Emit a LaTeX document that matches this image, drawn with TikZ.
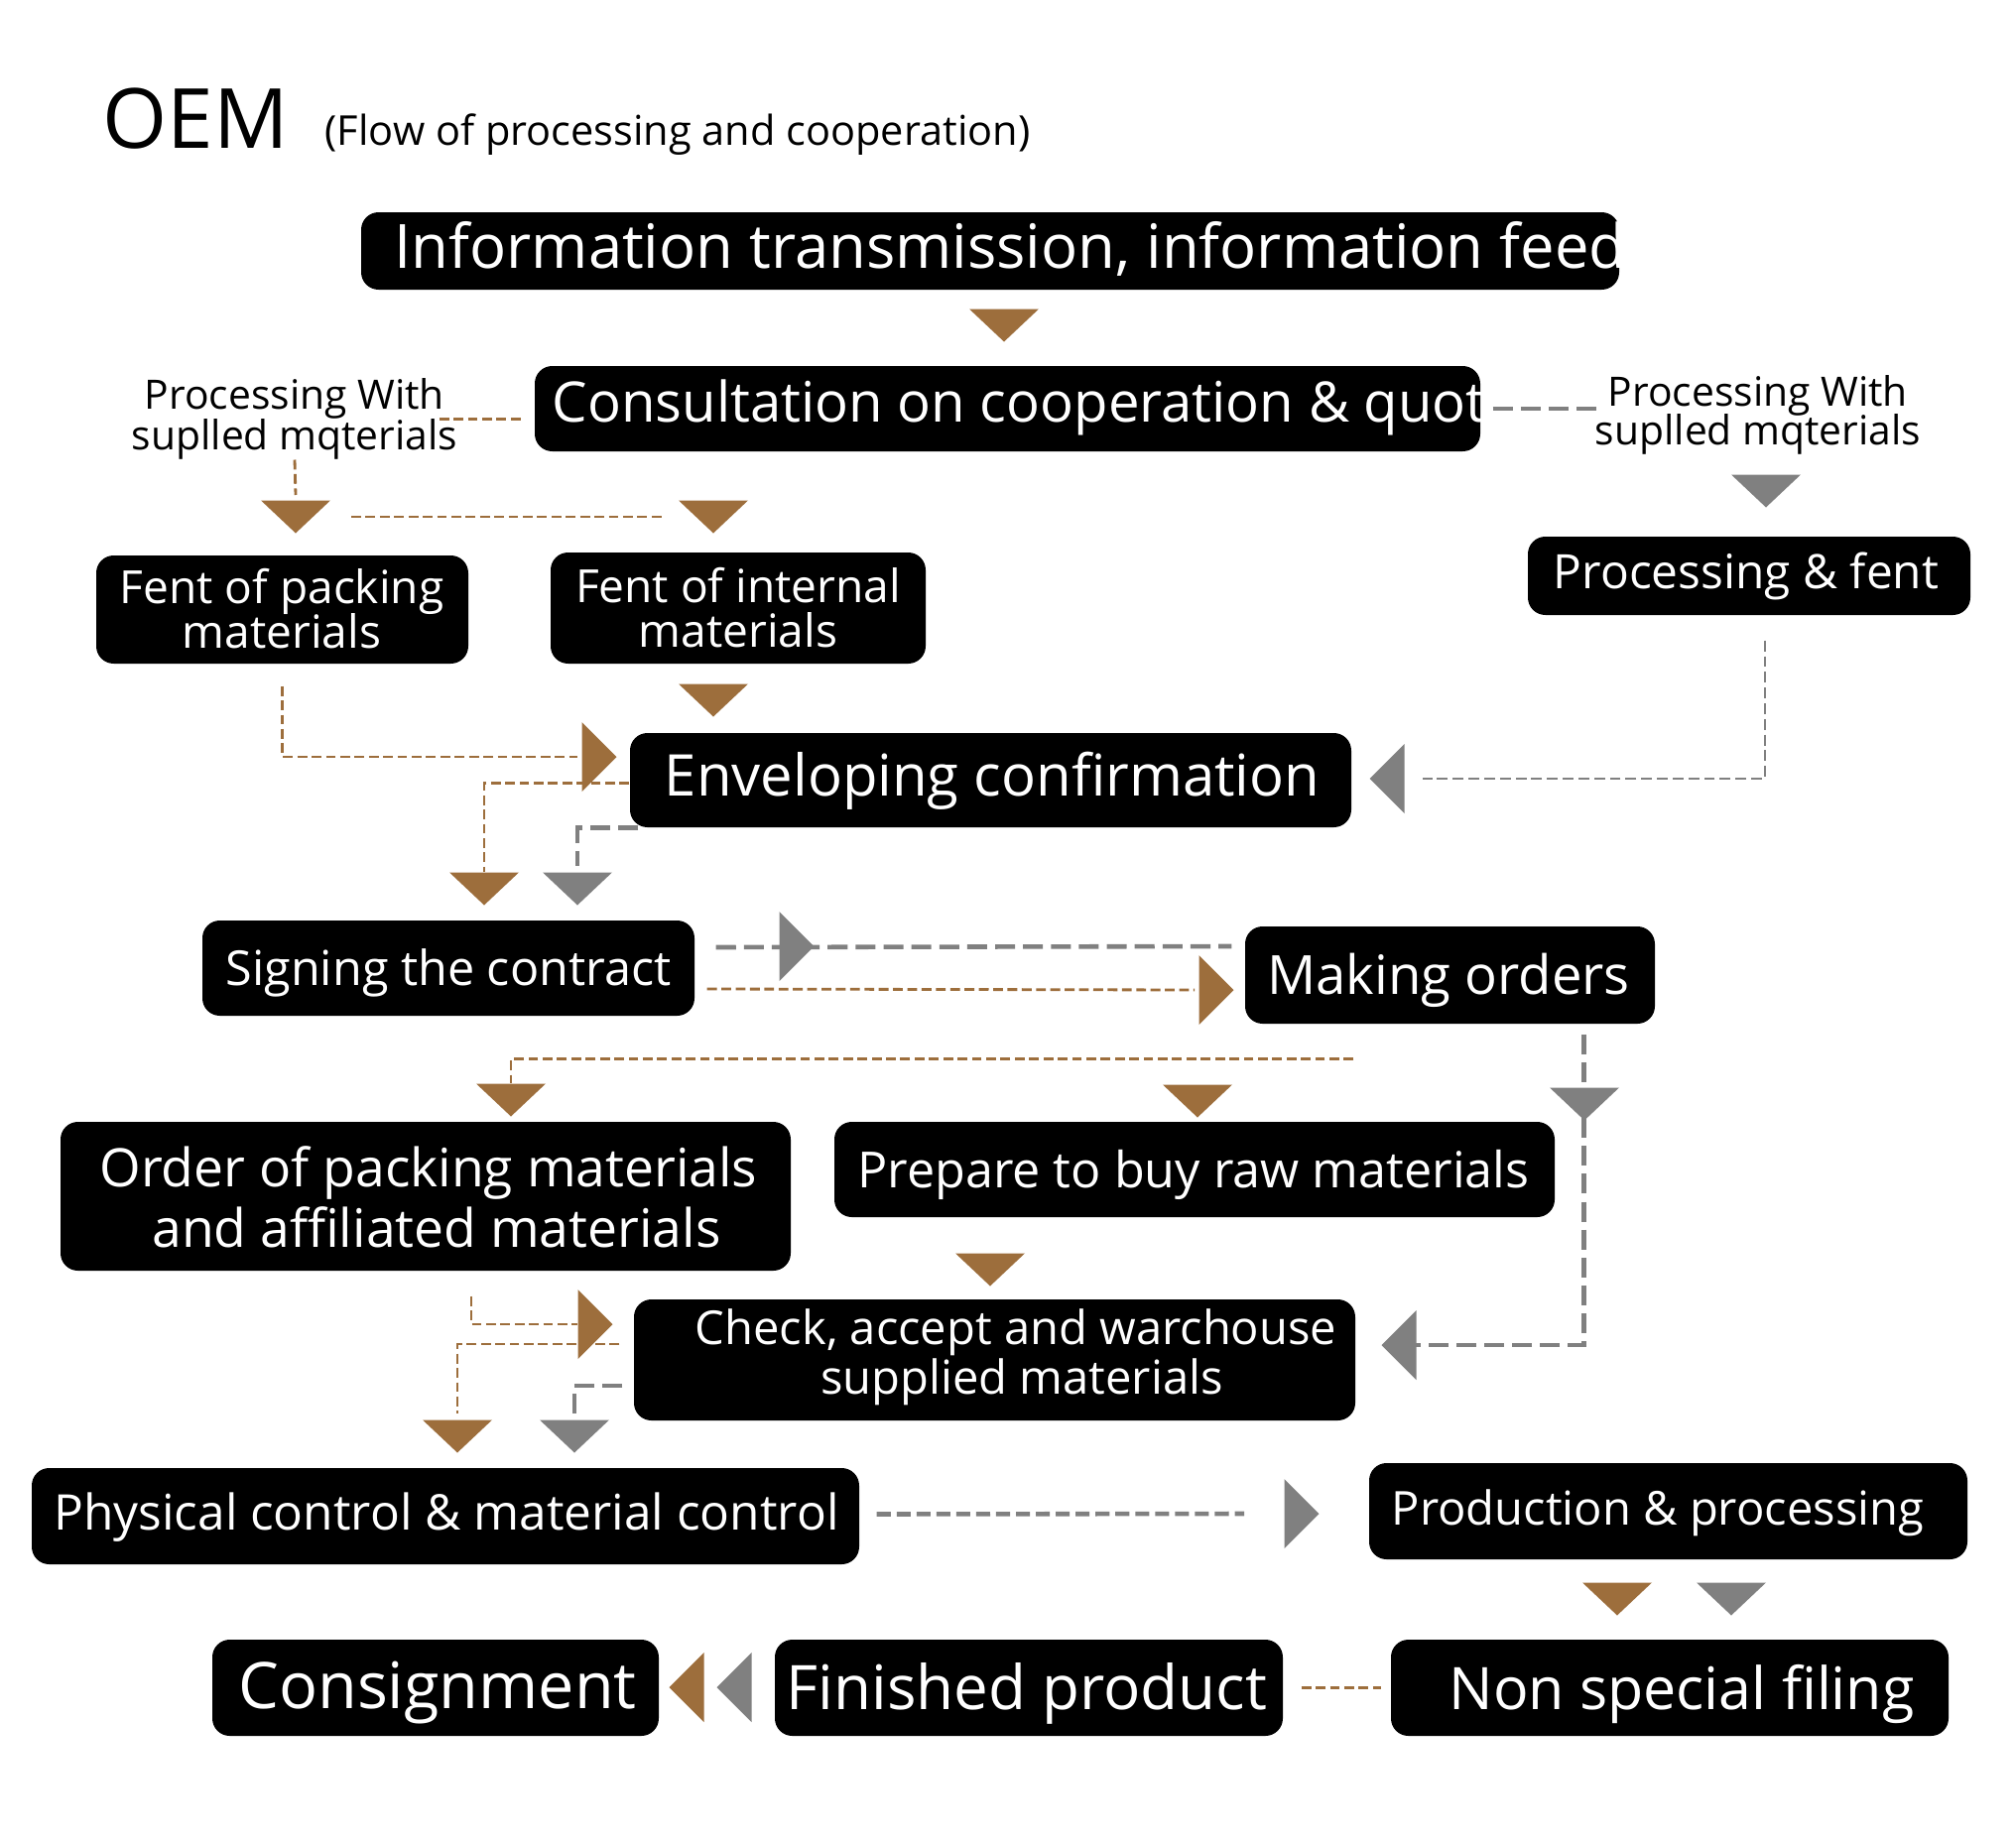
\documentclass[tikz,border=0pt]{standalone}
\usepackage{fontspec}
\setmainfont{Open Sans}
\usetikzlibrary{fit, calc}

\definecolor{brn}{RGB}{157,110,60}
\definecolor{gry}{RGB}{128,128,128}

\tikzset{
  blk/.style={fill=black, rounded corners=5pt, inner sep=0pt},
  txt/.style={text=white, inner sep=0pt, anchor=base},
  lbl/.style={inner sep=0pt, anchor=base, font=\fontsize{11.6}{11.6}\selectfont},
  brdash/.style={draw=brn, line width=0.8pt, dash pattern=on 2.8pt off 1.3pt},
  gythick/.style={draw=gry, line width=1.3pt, dash pattern=on 5.7pt off 2.3pt},
  gythin/.style={draw=gry, line width=0.7pt, dash pattern=on 3.1pt off 1.4pt},
  tri down/.style={insert path={++(-35,-16.5) -- ++(70,0) -- ++(-35,33) -- cycle}},
  tri right/.style={insert path={++(-17.5,-35) -- ++(35,35) -- ++(-35,35) -- cycle}},
  tri left/.style={insert path={++(17.5,-35) -- ++(-35,35) -- ++(35,35) -- cycle}},
}

\begin{document}
\begin{tikzpicture}[x=0.01cm, y=-0.01cm]
\useasboundingbox (0,0) rectangle (2032,1857);
\fill[white] (0,0) rectangle (2032,1857);

% ---- TITLE ----
\node[anchor=base west, inner sep=0pt, font=\fontsize{23.8}{23.8}\selectfont] (oem) at (103,149) {OEM};
\node[anchor=base west, inner sep=0pt, font=\fontsize{11.8}{11.8}\selectfont] (sub) at (327,146) {(Flow of processing and cooperation)};

% ---- BOXES ----
\node[blk, fit={(364,214) (1632,292)}] (inf) {};
\node[blk, fit={(539,369) (1492,455)}] (cons) {};
\node[blk, fit={(97,560) (472,669)}] (fpk) {};
\node[blk, fit={(555,557) (933,669)}] (fint) {};
\node[blk, fit={(1540,541) (1986,620)}] (pfent) {};
\node[blk, fit={(635,739) (1362,834)}] (env) {};
\node[blk, fit={(204,928) (700,1024)}] (sign) {};
\node[blk, fit={(1255,934) (1668,1032)}] (mko) {};
\node[blk, fit={(61,1131) (797,1281)}] (ord) {};
\node[blk, fit={(841,1131) (1567,1227)}] (prep) {};
\node[blk, fit={(639,1310) (1366,1432)}] (chk) {};
\node[blk, fit={(32,1480) (866,1577)}] (phy) {};
\node[blk, fit={(1380,1475) (1983,1572)}] (prod) {};
\node[blk, fit={(214,1653) (664,1750)}] (csg) {};
\node[blk, fit={(781,1653) (1293,1750)}] (fprod) {};
\node[blk, fit={(1402,1653) (1964,1750)}] (nsf) {};

% ---- TEXTS ----
% the two top texts run past the box and are cut
\begin{scope}
  \clip[rounded corners=5pt] (inf.south west) rectangle (inf.north east);
  \node[txt, anchor=base west, font=\fontsize{17.5}{17.5}\selectfont] (infT) at (397,270) {Information transmission, information feed};
\end{scope}
\begin{scope}
  \clip[rounded corners=5pt] (cons.south west) rectangle (cons.north east);
  \node[txt, anchor=base west, font=\fontsize{16}{16}\selectfont] (consT) at (556,425) {Consultation on cooperation \& quot};
\end{scope}
\node[txt, font=\fontsize{13.1}{13.1}\selectfont] (fpkT1) at (284,608) {Fent of packing};
\node[txt, font=\fontsize{13.1}{13.1}\selectfont] (fpkT2) at (284,653) {materials};
\node[txt, font=\fontsize{13.1}{13.1}\selectfont] (fintT1) at (744,607) {Fent of internal};
\node[txt, font=\fontsize{13.1}{13.1}\selectfont] (fintT2) at (744,652) {materials};
\node[txt, font=\fontsize{13.6}{13.6}\selectfont] (pfentT) at (1760,593) {Processing \& fent};
\node[txt, font=\fontsize{16.5}{16.5}\selectfont] (envT) at (1000,802) {Enveloping confirmation};
\node[txt, font=\fontsize{13.8}{13.8}\selectfont] (signT) at (452,993) {Signing the contract};
\node[txt, font=\fontsize{15.5}{15.5}\selectfont] (mkoT) at (1460,1002) {Making orders};
\node[txt, font=\fontsize{15.2}{15.2}\selectfont] (ordT1) at (432,1196) {Order of packing materials};
\node[txt, font=\fontsize{15.2}{15.2}\selectfont] (ordT2) at (440,1257) {and affiliated materials};
\node[txt, font=\fontsize{14.3}{14.3}\selectfont] (prepT) at (1203,1197) {Prepare to buy raw materials};
\node[txt, font=\fontsize{13.4}{13.4}\selectfont] (chkT1) at (1024,1355) {Check, accept and warchouse};
\node[txt, font=\fontsize{13.4}{13.4}\selectfont] (chkT2) at (1030,1405) {supplied materials};
\node[txt, font=\fontsize{14.1}{14.1}\selectfont] (phyT) at (450,1542) {Physical control \& material control};
\node[txt, font=\fontsize{13.4}{13.4}\selectfont] (prodT) at (1671,1537) {Production \& processing};
\node[txt, font=\fontsize{18.4}{18.4}\selectfont] (csgT) at (441,1722) {Consignment};
\node[txt, font=\fontsize{17.6}{17.6}\selectfont] (fprodT) at (1035,1723) {Finished product};
\node[txt, font=\fontsize{16.8}{16.8}\selectfont] (nsfT) at (1695,1723) {Non special filing};

% side labels
\node[lbl] (lblL1) at (297,412) {Processing With};
\node[lbl] (lblL2) at (297,453) {suplled mqterials};
\node[lbl] (lblR1) at (1772,409) {Processing With};
\node[lbl] (lblR2) at (1772,448) {suplled mqterials};

% ---- TRIANGLES ----
% brown, pointing down
\coordinate (bT0) at (1012,328);
\coordinate (bA) at (298,521);
\coordinate (bB) at (719,521);
\coordinate (bC) at (719,706);
\coordinate (bD) at (488,896);
\coordinate (bE) at (515,1109);
\coordinate (bF) at (1207,1110);
\coordinate (bG) at (998,1280);
\coordinate (bH) at (461,1448);
\coordinate (bI) at (1630,1612);
\foreach \t in {bT0,bA,bB,bC,bD,bE,bF,bG,bH,bI}
  \fill[brn] (\t) [tri down];
% grey, pointing down
\coordinate (gA) at (1780,495);
\coordinate (gB) at (582,896);
\coordinate (gC) at (1597,1113);
\coordinate (gD) at (579,1448);
\coordinate (gE) at (1745,1612);
\foreach \t in {gA,gB,gC,gD,gE}
  \fill[gry] (\t) [tri down];
% sideways
\coordinate (bR1) at (604,763);
\coordinate (gR1) at (803,954);
\coordinate (bR2) at (1226,998);
\coordinate (bR3) at (600,1335);
\coordinate (gR2) at (1312,1526);
\coordinate (gL1) at (1398,785);
\coordinate (gL2) at (1410,1356);
\coordinate (bL1) at (692,1701);
\coordinate (gL3) at (740,1701);
\fill[brn] (bR1) [tri right];
\fill[gry] (gR1) [tri right];
\fill[brn] (bR2) [tri right];
\fill[brn] (bR3) [tri right];
\fill[gry] (gR2) [tri right];
\fill[gry] (gL1) [tri left];
\fill[gry] (gL2) [tri left];
\fill[brn] (bL1) [tri left];
\fill[gry] (gL3) [tri left];

% ---- CONNECTORS ----
\draw[brdash] ($(lblL1.south east)+(-6,0)$) -- ($(lblL1.south east -| cons.west)+(-13,0)$);
\draw[brdash] (lblL2.south) -- ($(bA)+(0,-22)$);
\draw[brdash] ($(bA)+(56,0)$) -- ($(bB)+(-49,0)$);
\draw[gythick] ($(cons.east)+(12,0)$) -- ($(cons.east -| lblR1.west)+(-9,0)$);
\draw[brdash] ($(fpk.south)+(0,22)$) |- ($(bR1)+(-22,0)$);
\draw[gythin] ($(pfent.south)+(16,25)$) |- ($(gL1)+(36,0)$);
\draw[brdash] ($(env.west)+(0,3)$) -| ($(bD)+(0,-17)$);
\draw[gythick] ($(env.south west)+(9,0)$) -| ($(gB)+(0,-23)$);
\draw[gythick] ($(sign.east)+(21,-21)$) -- ($(mko.west |- gR1)+(-13,0)$);
\draw[brdash] ($(sign.east)+(12,21)$) -- ($(bR2)+(-22,0)$);
\draw[brdash] ($(mko.south west)+(110,35)$) -| ($(bE)+(0,-17)$);
\draw[gythick] ($(mko.south)+(135,10)$) |- ($(gL2)+(17,0)$);
\draw[brdash] ($(ord.south)+(46,25)$) |- ($(bR3)+(-18,0)$);
\draw[brdash] ($(chk.west)+(-14,-16)$) -| ($(bH)+(0,-23)$);
\draw[gythick] ($(chk.west)+(-11,26)$) -| ($(gD)+(0,-22)$);
\draw[gythick, dash pattern=on 4pt off 1.7pt] ($(phy.east)+(17,-2)$) -- ($(gR2)+(-58,0)$);
\draw[brdash] ($(fprod.east)+(18,0)$) -- ($(nsf.west)+(-9,0)$);

\end{tikzpicture}
\end{document}
